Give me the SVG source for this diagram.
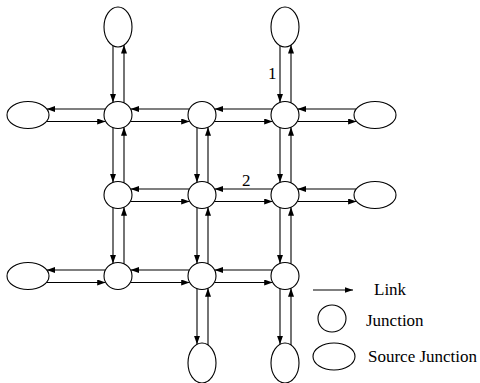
<svg xmlns="http://www.w3.org/2000/svg" width="480" height="383" viewBox="0 0 480 383">
<style>
.n{fill:#fff;stroke:#000;stroke-width:1.1}
.e line{stroke:#000;stroke-width:1.1;marker-end:url(#ah)}
.t{font-family:"Liberation Serif","Times New Roman",serif;font-size:17px;fill:#000}
</style>
<defs>
<marker id="ah" markerUnits="userSpaceOnUse" markerWidth="9" markerHeight="6" refX="8.5" refY="3" orient="auto">
<path d="M0,0 L8.5,3 L0,6 z" fill="#000"/>
</marker>
</defs>
<rect width="480" height="383" fill="#fff"/>
<g id="connectors" class="e">
<!-- column 1 -->
<line x1="113" y1="45.7" x2="113" y2="102.4"/>
<line x1="124" y1="102.8" x2="124" y2="45.1"/>
<line x1="113" y1="127.6" x2="113" y2="182.4"/>
<line x1="124" y1="182.8" x2="124" y2="127.2"/>
<line x1="113" y1="207.6" x2="113" y2="263.4"/>
<line x1="124" y1="263.8" x2="124" y2="207.2"/>
<!-- column 2 -->
<line x1="197" y1="127.6" x2="197" y2="182.4"/>
<line x1="208" y1="182.8" x2="208" y2="127.2"/>
<line x1="197" y1="207.6" x2="197" y2="263.4"/>
<line x1="208" y1="263.8" x2="208" y2="207.2"/>
<line x1="197" y1="288.6" x2="197" y2="344.3"/>
<line x1="208" y1="344.9" x2="208" y2="288.2"/>
<!-- column 3 -->
<line x1="280" y1="45.7" x2="280" y2="102.4"/>
<line x1="291" y1="102.8" x2="291" y2="45.1"/>
<line x1="280" y1="127.6" x2="280" y2="182.4"/>
<line x1="291" y1="182.8" x2="291" y2="127.2"/>
<line x1="280" y1="207.6" x2="280" y2="263.4"/>
<line x1="291" y1="263.8" x2="291" y2="207.2"/>
<line x1="280" y1="288.6" x2="280" y2="344.3"/>
<line x1="291" y1="344.9" x2="291" y2="288.2"/>
<!-- row 1 -->
<line x1="105.5" y1="109" x2="46.8" y2="109"/>
<line x1="46.4" y1="121.5" x2="105.7" y2="121.5"/>
<line x1="189.5" y1="109" x2="130.5" y2="109"/>
<line x1="130.3" y1="121.5" x2="189.7" y2="121.5"/>
<line x1="272.5" y1="109" x2="214.5" y2="109"/>
<line x1="214.3" y1="121.5" x2="272.7" y2="121.5"/>
<line x1="356.2" y1="109" x2="297.5" y2="109"/>
<line x1="297.3" y1="121.5" x2="356.6" y2="121.5"/>
<!-- row 2 -->
<line x1="189.5" y1="189" x2="130.5" y2="189"/>
<line x1="130.3" y1="201.5" x2="189.7" y2="201.5"/>
<line x1="272.5" y1="189" x2="214.5" y2="189"/>
<line x1="214.3" y1="201.5" x2="272.7" y2="201.5"/>
<line x1="356.2" y1="189" x2="297.5" y2="189"/>
<line x1="297.3" y1="201.5" x2="356.6" y2="201.5"/>
<!-- row 3 -->
<line x1="105.5" y1="270" x2="46.8" y2="270"/>
<line x1="46.4" y1="282.5" x2="105.7" y2="282.5"/>
<line x1="189.5" y1="270" x2="130.5" y2="270"/>
<line x1="130.3" y1="282.5" x2="189.7" y2="282.5"/>
<line x1="272.5" y1="270" x2="214.5" y2="270"/>
<line x1="214.3" y1="282.5" x2="272.7" y2="282.5"/>
<!-- legend link -->
<line x1="313" y1="290" x2="353" y2="290"/>
</g>
<g id="j11"><ellipse class="n" cx="118" cy="115" rx="14" ry="13.5"/></g>
<g id="j12"><ellipse class="n" cx="202" cy="115" rx="14" ry="13.5"/></g>
<g id="j13"><ellipse class="n" cx="285" cy="115" rx="14" ry="13.5"/></g>
<g id="j21"><ellipse class="n" cx="118" cy="195" rx="14" ry="13.5"/></g>
<g id="j22"><ellipse class="n" cx="202" cy="195" rx="14" ry="13.5"/></g>
<g id="j23"><ellipse class="n" cx="285" cy="195" rx="14" ry="13.5"/></g>
<g id="j31"><ellipse class="n" cx="118" cy="276" rx="14" ry="13.5"/></g>
<g id="j32"><ellipse class="n" cx="202" cy="276" rx="14" ry="13.5"/></g>
<g id="j33"><ellipse class="n" cx="285" cy="276" rx="14" ry="13.5"/></g>
<g id="s-top-left"><ellipse class="n" cx="118" cy="27" rx="14" ry="20"/></g>
<g id="s-top-right"><ellipse class="n" cx="285" cy="27" rx="14" ry="20"/></g>
<g id="s-left-1"><ellipse class="n" cx="28" cy="115" rx="21" ry="13.5"/></g>
<g id="s-right-1"><ellipse class="n" cx="375" cy="115" rx="21" ry="13.5"/></g>
<g id="s-right-2"><ellipse class="n" cx="375" cy="195" rx="21" ry="13.5"/></g>
<g id="s-left-3"><ellipse class="n" cx="28" cy="276" rx="21" ry="13.5"/></g>
<g id="s-bottom-2"><ellipse class="n" cx="202" cy="363" rx="14" ry="20"/></g>
<g id="s-bottom-3"><ellipse class="n" cx="285" cy="363" rx="14" ry="20"/></g>
<g id="labels">
<text class="t" x="268" y="79">1</text>
<text class="t" x="242" y="186">2</text>
</g>
<g id="legend">
<text class="t" x="374" y="295">Link</text>
<ellipse class="n" cx="332" cy="318.5" rx="14" ry="13.5"/>
<text class="t" x="366" y="326">Junction</text>
<ellipse class="n" cx="334" cy="356.5" rx="21" ry="13.5"/>
<text class="t" x="368" y="362">Source Junction</text>
</g>
</svg>
